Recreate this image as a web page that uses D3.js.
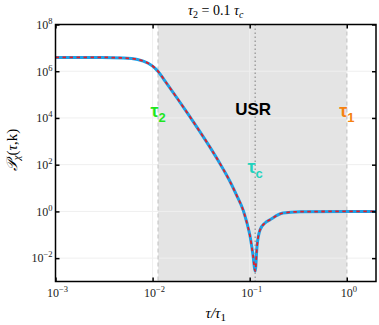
<!DOCTYPE html>
<html>
<head>
<meta charset="utf-8">
<script src="https://d3js.org/d3.v7.min.js"></script>
<style>
  body { margin: 0; background: #fff; }
</style>
</head>
<body>
<svg id="chart" width="379" height="325"></svg>
<script>
  // curve: tau/tau1 and P_chi
  var tauVals = [0.001, 0.003, 0.005, 0.007, 0.009, 0.0105, 0.0114, 0.0135, 0.018, 0.024, 0.0307, 0.040,
                 0.0535, 0.0627, 0.0740, 0.0859, 0.0937, 0.1007, 0.108, 0.114, 0.119, 0.1277, 0.1439,
                 0.162, 0.220, 0.330, 1.0, 2.0];
  var powerVals = [3.9e6, 3.9e6, 3.7e6, 3.2e6, 2.2e6, 1.4e6, 9.8e5, 3.7e5, 6.8e4, 1.2e4, 2.6e3, 475,
                   63, 19, 4.5, 1.1, 0.32, 0.09, 0.014, 0.0028, 0.032, 0.16, 0.32,
                   0.44, 0.85, 0.97, 1.0, 1.0];

  var tau2 = 0.0114, tauC = 0.114, tau1 = 1.0;

  var xTicks = [1e-3, 1e-2, 1e-1, 1e0];
  var xTickExp = ["\u22123", "\u22122", "\u22121", "0"];
  var yTicks = [1e-2, 1e0, 1e2, 1e4, 1e6, 1e8];
  var yTickExp = ["\u22122", "0", "2", "4", "6", "8"];

  var serif = "'Liberation Serif', 'Times New Roman', 'DejaVu Serif', serif";
  var sans = "'Liberation Sans', Arial, sans-serif";

  var margin = {top: 24.5, right: 3, bottom: 43.5, left: 55.5},
      width = 379 - margin.left - margin.right,
      height = 325 - margin.top - margin.bottom;

  var svg = d3.select("#chart")
    .append("g")
      .attr("transform", "translate(" + margin.left + "," + margin.top + ")");

  var x = d3.scaleLog().domain([1e-3, 2]).range([0, width]);
  var y = d3.scaleLog().domain([1e-3, 1e8]).range([height, 0]);

  // shaded USR region
  svg.append("rect")
    .attr("x", x(tau2))
    .attr("y", 0)
    .attr("width", x(tau1) - x(tau2))
    .attr("height", height)
    .attr("fill", "#e4e4e4");

  // faint grid
  svg.selectAll(".hgrid")
    .data(yTicks.slice(0, 5))
    .enter().append("line")
      .attr("x1", 0).attr("x2", width)
      .attr("y1", function(d) { return y(d) })
      .attr("y2", function(d) { return y(d) })
      .attr("stroke", "#efefef")
      .attr("stroke-width", 1);
  svg.selectAll(".vgrid")
    .data(xTicks.slice(1))
    .enter().append("line")
      .attr("y1", 0).attr("y2", height)
      .attr("x1", function(d) { return x(d) })
      .attr("x2", function(d) { return x(d) })
      .attr("stroke", "#efefef")
      .attr("stroke-width", 1);

  // tau2 and tau1 boundaries
  svg.selectAll(".bound")
    .data([tau2, tau1])
    .enter().append("line")
      .attr("y1", 0).attr("y2", height)
      .attr("x1", function(d) { return x(d) })
      .attr("x2", function(d) { return x(d) })
      .attr("stroke", "#cfcfcf")
      .attr("stroke-width", 1.5)
      .attr("stroke-dasharray", "4,3");

  // tau_c dotted line
  svg.append("line")
    .attr("y1", 0).attr("y2", height)
    .attr("x1", x(tauC)).attr("x2", x(tauC))
    .attr("stroke", "#a0a0a0")
    .attr("stroke-width", 1.5)
    .attr("stroke-dasharray", "1.5,2.5");

  var data = tauVals.map(function(t, i) { return {tau: t, p: powerVals[i]} });
  var line = d3.line()
    .x(function(d) { return x(d.tau) })
    .y(function(d) { return y(d.p) })
    .curve(d3.curveMonotoneX);

  svg.append("path")
    .datum(data)
    .attr("fill", "none")
    .attr("stroke", "#1ea0e6")
    .attr("stroke-width", 3)
    .attr("d", line);

  svg.append("path")
    .datum(data)
    .attr("fill", "none")
    .attr("stroke", "#e31e26")
    .attr("stroke-width", 1.8)
    .attr("stroke-dasharray", "3.5,3.5")
    .attr("d", line);

  // annotations
  function greekLabel(xp, yp, sub, color) {
    var t = svg.append("text")
      .attr("x", xp).attr("y", yp)
      .attr("text-anchor", "middle")
      .attr("fill", color)
      .style("font-family", sans)
      .style("font-weight", "bold")
      .style("font-size", "18px");
    t.append("tspan").text("\u03c4");
    t.append("tspan").attr("dy", 5).style("font-size", "13px").text(sub);
  }
  greekLabel(x(tau2), y(1e4) - 1, "2", "#1ee61e");
  greekLabel(x(tau1), y(1e4) - 1, "1", "#f58210");
  greekLabel(x(tauC), y(45), "c", "#22d3bd");

  svg.append("text")
    .attr("x", x(tauC) - 2).attr("y", y(1e4) - 3)
    .attr("text-anchor", "middle")
    .style("font-family", sans)
    .style("font-weight", "bold")
    .style("font-size", "17px")
    .text("USR");

  // frame and inward ticks
  svg.append("rect")
    .attr("width", width).attr("height", height)
    .attr("fill", "none")
    .attr("stroke", "#000")
    .attr("stroke-width", 1.5);

  function inward(g) {
    g.select(".domain").remove();
    g.selectAll("line").attr("stroke-width", 1.5);
  }
  svg.append("g")
    .attr("transform", "translate(0," + height + ")")
    .call(d3.axisBottom(x).tickValues(xTicks).tickSize(-4).tickFormat("").tickSizeOuter(0))
    .call(inward);
  svg.append("g")
    .call(d3.axisTop(x).tickValues(xTicks).tickSize(-4).tickFormat("").tickSizeOuter(0))
    .call(inward);
  svg.append("g")
    .call(d3.axisLeft(y).tickValues(yTicks).tickSize(-4).tickFormat("").tickSizeOuter(0))
    .call(inward);
  svg.append("g")
    .attr("transform", "translate(" + width + ",0)")
    .call(d3.axisRight(y).tickValues(yTicks).tickSize(-4).tickFormat("").tickSizeOuter(0))
    .call(inward);

  // tick labels
  function powLabel(sel) {
    sel.append("tspan").text("10");
    sel.append("tspan").attr("dy", -5).style("font-size", "8.5px").text(function(d) { return d.exp });
  }
  svg.selectAll(".xlab")
    .data(xTicks.map(function(v, i) { return {v: v, exp: xTickExp[i]} }))
    .enter().append("text")
      .attr("x", function(d) { return x(d.v) + 2 })
      .attr("y", height + 15)
      .attr("text-anchor", "middle")
      .attr("fill", "#222")
      .style("font-family", serif)
      .style("font-size", "12px")
      .call(powLabel);
  svg.selectAll(".ylab")
    .data(yTicks.map(function(v, i) { return {v: v, exp: yTickExp[i]} }))
    .enter().append("text")
      .attr("x", -3)
      .attr("y", function(d) { return y(d.v) + 4.3 })
      .attr("text-anchor", "end")
      .attr("fill", "#222")
      .style("font-family", serif)
      .style("font-size", "12px")
      .call(powLabel);

  // title and axis titles
  var title = svg.append("text")
    .attr("x", width / 2)
    .attr("y", -9.5)
    .attr("text-anchor", "middle")
    .style("font-family", serif)
    .style("font-size", "14px");
  title.append("tspan").style("font-style", "italic").text("\u03c4");
  title.append("tspan").attr("dy", 3).style("font-size", "10px").text("2");
  title.append("tspan").attr("dy", -3).text(" = 0.1 ");
  title.append("tspan").style("font-style", "italic").text("\u03c4");
  title.append("tspan").attr("dy", 3).style("font-size", "10px").style("font-style", "italic").text("c");

  var xt = svg.append("text")
    .attr("x", width / 2)
    .attr("y", height + 36)
    .attr("text-anchor", "middle")
    .style("font-family", serif)
    .style("font-size", "15px");
  xt.append("tspan").style("font-style", "italic").text("\u03c4/\u03c4");
  xt.append("tspan").attr("dy", 3).style("font-size", "11px").text("1");

  var yt = svg.append("text")
    .attr("transform", "translate(" + (-39) + "," + (height / 2 - 3) + ") rotate(-90)")
    .attr("text-anchor", "middle")
    .style("font-family", serif)
    .style("font-size", "15px");
  yt.append("tspan").style("font-style", "italic").text("\ud835\udcab");
  yt.append("tspan").attr("dy", 3).style("font-size", "11px").style("font-style", "italic").text("\u03c7");
  yt.append("tspan").attr("dy", -3).text("(");
  yt.append("tspan").style("font-style", "italic").text("\u03c4");
  yt.append("tspan").text(",k)");
</script>
</body>
</html>
